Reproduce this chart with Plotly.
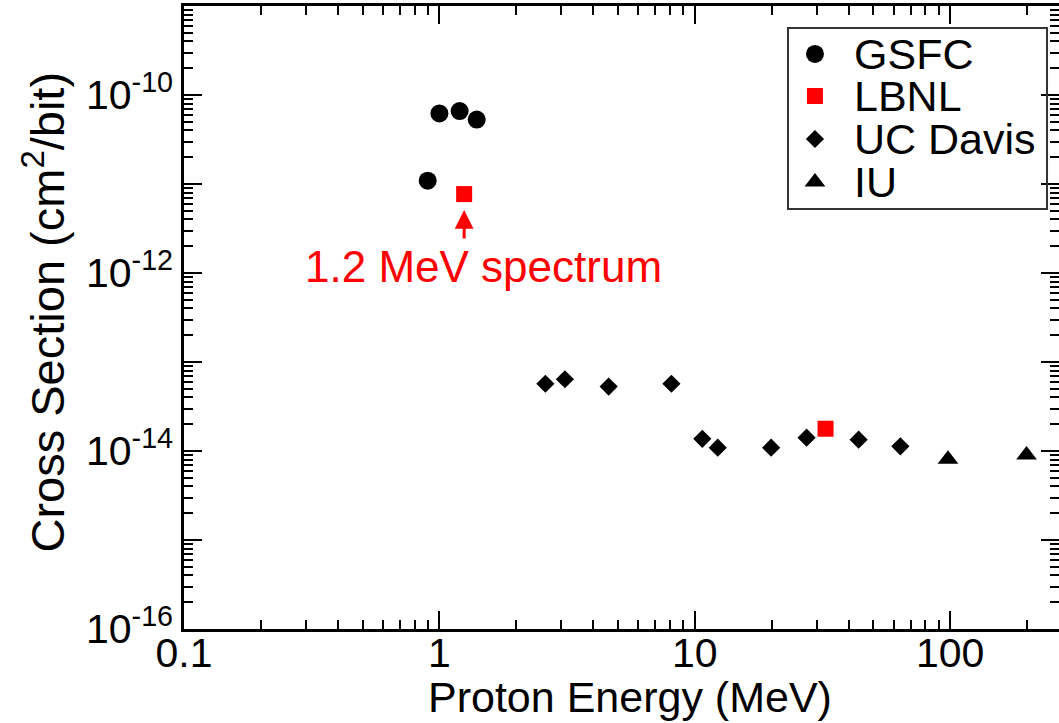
import plotly.graph_objects as go

# Proton energy (MeV) and SEU cross section (cm^2/bit) per facility
gsfc_energy = [0.9, 1.0, 1.2, 1.4]
gsfc_xs = [1.09e-11, 6.2e-11, 6.6e-11, 5.3e-11]

lbnl_energy = [1.25, 32.5]
lbnl_xs = [7.7e-12, 1.78e-14]

ucd_energy = [2.6, 3.1, 4.6, 8.1, 10.7, 12.3, 19.9, 27.4, 43.8, 63.8]
ucd_xs = [5.7e-14, 6.4e-14, 5.3e-14, 5.7e-14, 1.37e-14, 1.09e-14,
          1.09e-14, 1.41e-14, 1.34e-14, 1.13e-14]

iu_energy = [98, 199]
iu_xs = [8.1e-15, 9.0e-15]

x_tickvals = [0.1, 1, 10, 100]
x_ticktext = ["0.1", "1", "10", "100"]
x_decades = [-1, 0, 1, 2]
y_exponents = [-16, -15, -14, -13, -12, -11, -10, -9]
y_labelled = [-16, -14, -12, -10]

legend_names = ["GSFC", "LBNL", "UC Davis", "IU"]

FONT = "Liberation Sans, Arial, Helvetica, sans-serif"
BLACK = "#000000"
RED = "#ff0000"

series = [
    (legend_names[0], gsfc_energy, gsfc_xs, "circle", 18, BLACK),
    (legend_names[1], lbnl_energy, lbnl_xs, "square", 16, RED),
    (legend_names[2], ucd_energy, ucd_xs, "diamond", 14, BLACK),
    (legend_names[3], iu_energy, iu_xs, "triangle-up", 18, BLACK),
]

fig = go.Figure()
for name, xs, ys, sym, size, col in series:
    fig.add_trace(go.Scatter(
        x=xs, y=ys, mode="markers", name=name, showlegend=False,
        marker=dict(symbol=sym, size=size, color=col, line=dict(width=0)),
    ))

# right-hand tick column (ticks only, no spine)
fig.add_trace(go.Scatter(x=[], y=[], xaxis="x", yaxis="y3", showlegend=False))

# legend keys drawn in a 0..1 overlay frame
leg_key_x = 0.7211
leg_rows_y = [0.9230, 0.8555, 0.7865, 0.7175]
for (name, _, _, sym, size, col), ly in zip(series, leg_rows_y):
    fig.add_trace(go.Scatter(
        x=[leg_key_x], y=[ly], xaxis="x2", yaxis="y2", mode="markers",
        showlegend=False, hoverinfo="skip",
        marker=dict(symbol=sym, size=size, color=col, line=dict(width=0)),
    ))


def minor_vals(exponents):
    return [m * 10.0 ** e for e in exponents for m in range(2, 10)]


y_tickvals = [10.0 ** e for e in y_exponents]
y_ticktext = [f"10<sup>{e}</sup>" if e in y_labelled else "" for e in y_exponents]

tick_font = dict(family=FONT, size=41, color=BLACK)
x_minor = dict(tickmode="array", tickvals=minor_vals(x_decades),
               ticks="inside", ticklen=9, tickwidth=1.5, tickcolor=BLACK,
               showgrid=False)
y_minor = dict(tickmode="array", tickvals=minor_vals(y_exponents[:-1]),
               ticks="inside", ticklen=9, tickwidth=1.5, tickcolor=BLACK,
               showgrid=False)

fig.update_layout(
    width=1059, height=723,
    margin=dict(l=184, r=0, t=6, b=94, pad=0),
    paper_bgcolor="white", plot_bgcolor="white",
    font=dict(family=FONT, color=BLACK),
    xaxis=dict(
        type="log", range=[-1, 2.426], showgrid=False, zeroline=False,
        showline=True, linecolor=BLACK, linewidth=2.5, mirror="ticks",
        ticks="inside", ticklen=18, tickwidth=2, tickcolor=BLACK,
        tickmode="array", tickvals=x_tickvals, ticktext=x_ticktext,
        tickfont=tick_font, minor=x_minor, ticklabelstandoff=-14,
    ),
    yaxis=dict(
        type="log", range=[-16, -9], showgrid=False, zeroline=False,
        showline=True, linecolor=BLACK, linewidth=2.5, mirror=False,
        ticks="inside", ticklen=18, tickwidth=2, tickcolor=BLACK,
        tickmode="array", tickvals=y_tickvals, ticktext=y_ticktext,
        tickfont=tick_font, minor=y_minor,
    ),
    yaxis3=dict(
        type="log", range=[-16, -9], overlaying="y", side="right", anchor="x",
        showgrid=False, zeroline=False, showline=False, showticklabels=False,
        ticks="inside", ticklen=18, tickwidth=2, tickcolor=BLACK,
        tickmode="array", tickvals=y_tickvals, minor=y_minor,
    ),
    xaxis2=dict(overlaying="x", anchor="y", range=[0, 1], visible=False),
    yaxis2=dict(overlaying="y", anchor="x", range=[0, 1], visible=False),
    showlegend=False,
)

annotations = [
    # axis titles
    dict(text="Proton Energy (MeV)", xref="paper", yref="paper",
         x=0.5097, y=-0.1091, xanchor="center", yanchor="middle",
         showarrow=False, font=dict(family=FONT, size=43, color=BLACK)),
    dict(text="Cross Section (cm<sup>2</sup>/bit)", xref="paper", yref="paper",
         x=-0.160, y=0.508, xanchor="center", yanchor="middle", textangle=-90,
         showarrow=False, font=dict(family=FONT, size=47, color=BLACK)),
    # pointer to the 1.2 MeV spectrum measurement
    dict(text="", xref="x", yref="y", x=0.0969, y=-11.292,
         ax=0, ay=30, axref="pixel", ayref="pixel",
         showarrow=True, arrowhead=2, arrowsize=1.25, arrowwidth=3,
         arrowcolor=RED),
    dict(text="1.2 MeV spectrum", xref="x", yref="y", x=0.1746, y=-11.929,
         xanchor="center", yanchor="middle", showarrow=False,
         font=dict(family=FONT, size=44, color=RED)),
]
for name, ly in zip(legend_names, leg_rows_y):
    annotations.append(dict(
        text=name, xref="paper", yref="paper", x=0.7634, y=ly,
        xanchor="left", yanchor="middle", showarrow=False,
        font=dict(family=FONT, size=43, color=BLACK),
    ))
fig.update_layout(annotations=annotations)

# legend frame
fig.add_shape(type="rect", xref="paper", yref="paper",
              x0=0.6903, x1=0.9863, y0=0.6742, y1=0.9647,
              line=dict(color="#333333", width=2), fillcolor="rgba(0,0,0,0)")

fig.write_html("out.html")
